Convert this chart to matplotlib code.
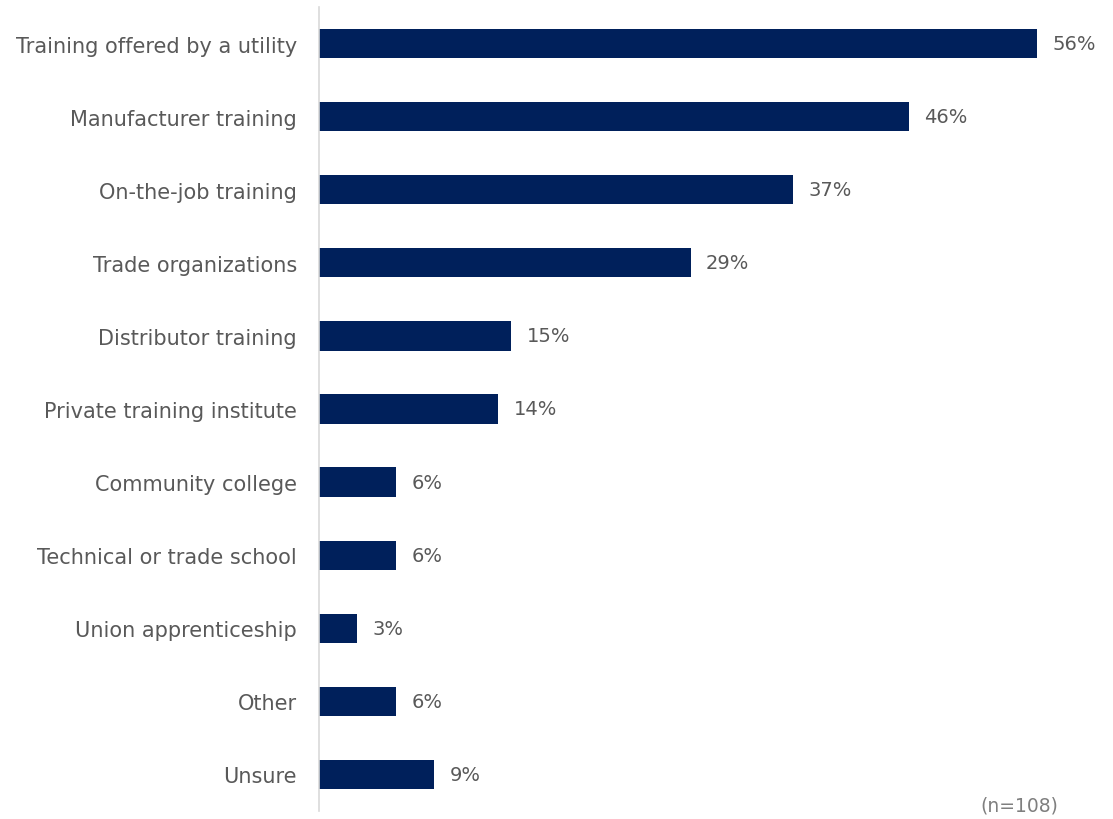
import matplotlib.pyplot as plt

# Training sources, top to bottom
categories = [
    "Training offered by a utility",
    "Manufacturer training",
    "On-the-job training",
    "Trade organizations",
    "Distributor training",
    "Private training institute",
    "Community college",
    "Technical or trade school",
    "Union apprenticeship",
    "Other",
    "Unsure",
]
percents = [56, 46, 37, 29, 15, 14, 6, 6, 3, 6, 9]
sample_note = "(n=108)"

BAR_COLOR = "#00205B"
TEXT_COLOR = "#595959"

plt.rcParams["font.family"] = ["DejaVu Sans"]

fig = plt.figure(figsize=(11.13, 8.2), dpi=100)
ax = fig.add_axes([319 / 1113, 1 - 812 / 820, (1100 - 319) / 1113, 804 / 820])

ypos = list(range(len(categories)))
ax.barh(ypos, percents, height=0.4, color=BAR_COLOR)

# value labels just past each bar end
for y, v in zip(ypos, percents):
    ax.annotate(f"{v}%", xy=(v, y), xytext=(11, 0), textcoords="offset points",
                ha="left", va="center", fontsize=14, color=TEXT_COLOR)

ax.set_xlim(0, (1100 - 319) / 12.82)
ax.set_ylim(len(categories) - 0.5, -0.5)
ax.set_yticks(ypos)
ax.set_yticklabels(categories, fontsize=15, color=TEXT_COLOR)
ax.tick_params(axis="y", length=0, pad=16)
ax.set_xticks([])

for side in ["top", "right", "bottom"]:
    ax.spines[side].set_visible(False)
ax.spines["left"].set_color("#D9D9D9")
ax.spines["left"].set_linewidth(1.2)

fig.text(1058 / 1113, 1 - 806 / 820, sample_note, ha="right", va="center",
         fontsize=13.5, color="#7F7F7F")

plt.savefig("out.png", dpi=100)
